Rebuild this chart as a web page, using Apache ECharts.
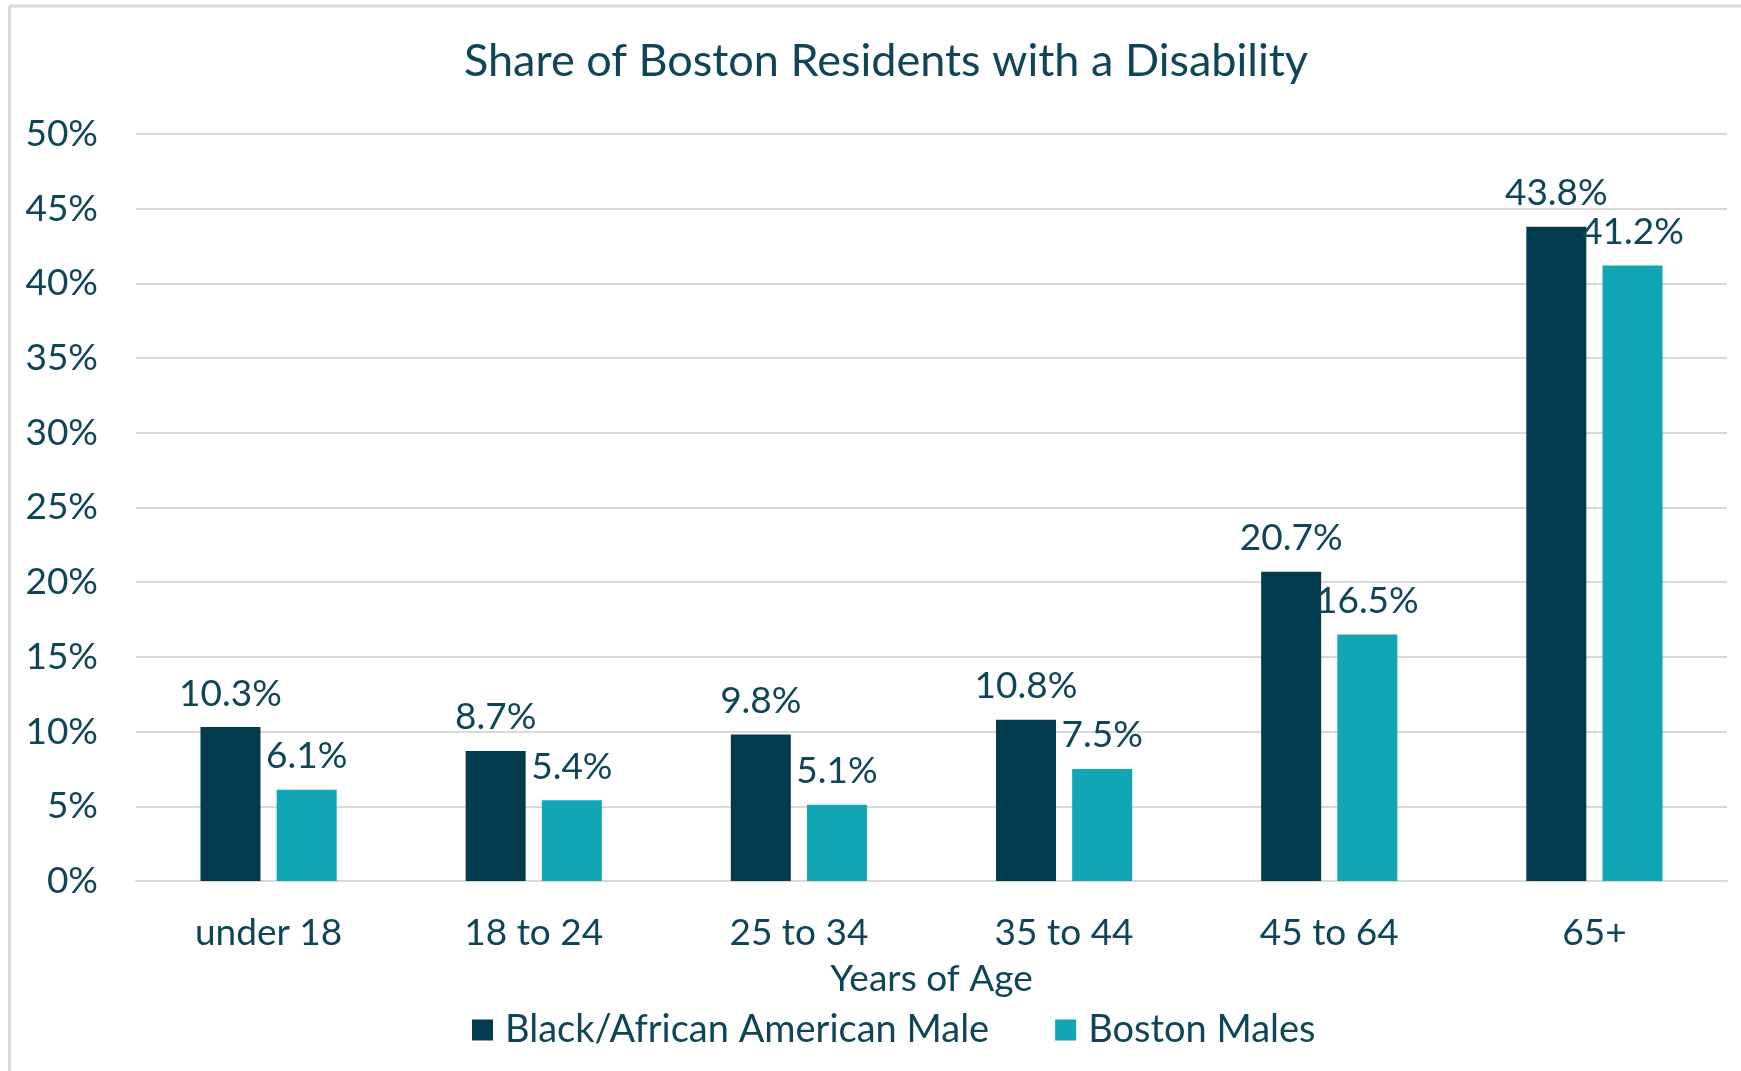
<!DOCTYPE html>
<html>
<head>
<meta charset="utf-8">
<title>Share of Boston Residents with a Disability</title>
<script src="https://cdn.jsdelivr.net/npm/echarts@6/dist/echarts.min.js"></script>
<style>
  html, body { margin: 0; padding: 0; background: #ffffff; }
  #chart { width: 1741px; height: 1071px; }
</style>
</head>
<body>
<div id="chart"></div>
<script>
// Age groups along the x axis
const ageGroups = ['under 18', '18 to 24', '25 to 34', '35 to 44', '45 to 64', '65+'];
// Share with a disability, in percent
const blackMaleShare = [10.3, 8.7, 9.8, 10.8, 20.7, 43.8];
const bostonMaleShare = [6.1, 5.4, 5.1, 7.5, 16.5, 41.2];
// Value-axis ticks, in percent
const yTicks = [0, 5, 10, 15, 20, 25, 30, 35, 40, 45, 50];

const seriesNames = ['Black/African American Male', 'Boston Males'];
const textColor = '#0e4658';
const fontFamily = 'Lato, "Open Sans", sans-serif';

const chart = echarts.init(document.getElementById('chart'), null, { renderer: 'canvas' });

const labelStyle = {
  show: true,
  position: 'top',
  distance: 15,
  color: textColor,
  fontFamily: fontFamily,
  fontSize: 37,
  formatter: p => p.value.toFixed(1) + '%'
};

chart.setOption({
  backgroundColor: '#ffffff',
  animation: false,
  title: {
    text: 'Share of Boston Residents with a Disability',
    left: 881,
    textAlign: 'center',
    top: 34,
    textStyle: { color: textColor, fontFamily: fontFamily, fontSize: 45, fontWeight: 'normal' }
  },
  legend: {
    data: seriesNames,
    left: 467,
    top: 1006,
    icon: 'rect',
    itemWidth: 21,
    itemHeight: 21,
    itemGap: 66,
    textStyle: { color: textColor, fontFamily: fontFamily, fontSize: 38, padding: [0, 0, 0, 7] }
  },
  grid: { left: 136, right: 14, top: 134, bottom: 190, containLabel: false },
  xAxis: {
    type: 'category',
    data: ageGroups,
    name: 'Years of Age',
    nameLocation: 'middle',
    nameGap: 80,
    nameTextStyle: { color: textColor, fontFamily: fontFamily, fontSize: 37 },
    axisLine: { show: true, lineStyle: { color: '#d9d9d9', width: 2 } },
    axisTick: { show: false },
    axisLabel: { color: textColor, fontFamily: fontFamily, fontSize: 37, margin: 34 }
  },
  yAxis: {
    type: 'value',
    min: yTicks[0],
    max: yTicks[yTicks.length - 1],
    interval: yTicks[1] - yTicks[0],
    axisLine: { show: false },
    axisTick: { show: false },
    splitLine: { lineStyle: { color: '#d9d9d9', width: 2 } },
    axisLabel: { color: textColor, fontFamily: fontFamily, fontSize: 37, margin: 38, formatter: '{value}%' }
  },
  series: [
    {
      name: seriesNames[0],
      type: 'bar',
      data: blackMaleShare,
      barWidth: 60,
      barGap: '27%',
      itemStyle: { color: '#033b4e' },
      label: labelStyle
    },
    {
      name: seriesNames[1],
      type: 'bar',
      data: bostonMaleShare,
      barWidth: 60,
      barGap: '27%',
      itemStyle: { color: '#10a6b3' },
      label: labelStyle
    }
  ],
  graphic: [
    { type: 'line', shape: { x1: 9, y1: 6, x2: 1741, y2: 6 }, style: { stroke: '#d9d9d9', lineWidth: 3 } },
    { type: 'line', shape: { x1: 9.5, y1: 6, x2: 9.5, y2: 1071 }, style: { stroke: '#d9d9d9', lineWidth: 3 } }
  ]
});
</script>
</body>
</html>
